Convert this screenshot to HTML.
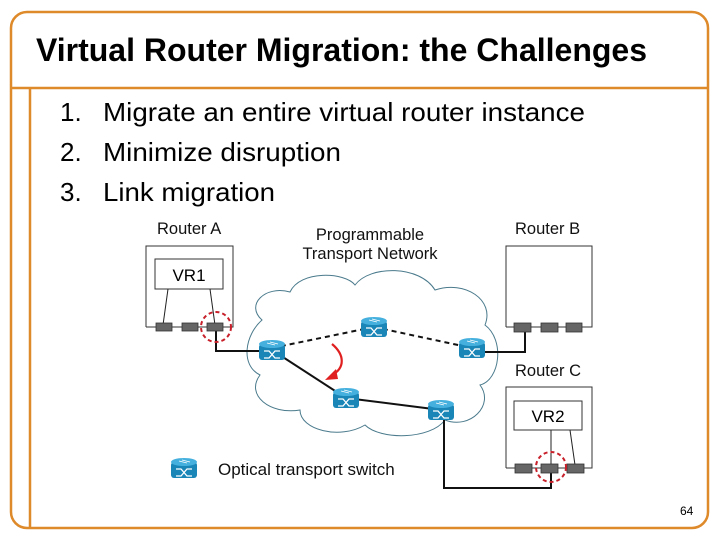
<!DOCTYPE html>
<html><head><meta charset="utf-8"><style>
html,body{margin:0;padding:0;background:#fff;}
svg{display:block;font-family:"Liberation Sans",Arial,sans-serif;}
</style></head><body>
<svg width="720" height="540" viewBox="0 0 720 540">
<defs>
<g id="sw">
<rect x="-13" y="-8" width="26" height="16" rx="3" fill="#1a86b8"/>
<ellipse cx="0" cy="-8" rx="13" ry="4" fill="#45b0de"/>
<path d="M-8 -1 L-3 -1 L3 6 L8 6 M-8 6 L-3 6 L3 -1 L8 -1" stroke="#fff" stroke-width="1.3" fill="none"/>
<path d="M-5 -9 L3 -7 M-2 -10 L6 -8" stroke="#fff" stroke-width="0.8"/>
</g>
</defs>
<!-- frame -->
<rect x="11" y="12" width="697" height="516" rx="16" fill="none" stroke="#de8a2a" stroke-width="2.5"/>
<line x1="11" y1="88" x2="708" y2="88" stroke="#de8a2a" stroke-width="2.5"/>
<line x1="30" y1="88" x2="30" y2="528" stroke="#de8a2a" stroke-width="2.5"/>
<text x="36" y="61" font-size="32" font-weight="bold" textLength="611" lengthAdjust="spacingAndGlyphs">Virtual Router Migration: the Challenges</text>
<g font-size="26">
<text x="60" y="121">1.</text><text x="103" y="121" textLength="482" lengthAdjust="spacingAndGlyphs">Migrate an entire virtual router instance</text>
<text x="60" y="161">2.</text><text x="103" y="161" textLength="238" lengthAdjust="spacingAndGlyphs">Minimize disruption</text>
<text x="60" y="201">3.</text><text x="103" y="201" textLength="172" lengthAdjust="spacingAndGlyphs">Link migration</text>
</g>
<!-- cloud -->
<path d="M262 320 C245 305 265 285 290 292 C300 270 345 272 355 285 C370 265 420 265 435 290 C465 280 495 300 485 325 C505 340 500 380 480 385 C495 405 470 430 445 420 C430 440 380 440 365 425 C340 440 300 430 300 410 C270 415 245 395 260 375 C240 365 245 335 262 320 Z" fill="#fff" stroke="#4a7a8c" stroke-width="1"/>
<g font-size="16.5" text-anchor="middle" fill="#111">
<text x="370" y="240">Programmable</text>
<text x="370" y="259">Transport Network</text>
</g>
<g font-size="16.5" fill="#111">
<text x="157" y="234">Router A</text>
<text x="515" y="234">Router B</text>
<text x="515" y="376">Router C</text>
<text x="218" y="475" font-size="17">Optical transport switch</text>
</g>
<!-- Router A -->
<path d="M146 327 V246 H233 V327 H146" fill="none" stroke="#333" stroke-width="1"/>
<rect x="155" y="259" width="68" height="30" fill="#fff" stroke="#333"/>
<text x="189" y="281" font-size="17" text-anchor="middle">VR1</text>
<line x1="168" y1="289" x2="163" y2="325" stroke="#222"/>
<line x1="210" y1="289" x2="215" y2="325" stroke="#222"/>
<!-- Router B -->
<path d="M506 327 V246 H592 V327 H506" fill="none" stroke="#333"/>
<!-- Router C -->
<path d="M506 468 V387 H592 V468 H506" fill="none" stroke="#333"/>
<rect x="514" y="401" width="68" height="29" fill="#fff" stroke="#333"/>
<text x="548" y="422" font-size="17" text-anchor="middle">VR2</text>
<line x1="551" y1="430" x2="551" y2="465" stroke="#222"/>
<line x1="570" y1="430" x2="575" y2="465" stroke="#222"/>
<!-- links -->
<g stroke="#111" stroke-width="2" fill="none">
<path d="M216 331 V351 H262"/>
<path d="M485 352 H525 V330"/>
<path d="M444 420 V488 H551 V473"/>
<line x1="272" y1="350" x2="346" y2="398"/>
<line x1="346" y1="398" x2="441" y2="410"/>
</g>
<g stroke="#111" stroke-width="2" stroke-dasharray="5,4">
<line x1="272" y1="348" x2="374" y2="327"/>
<line x1="374" y1="327" x2="472" y2="348"/>
</g>
<!-- ports -->
<g fill="#666" stroke="#333" stroke-width="0.8">
<rect x="156" y="323" width="16" height="8"/><rect x="182" y="323" width="16" height="8"/><rect x="207" y="323" width="16" height="8"/>
<rect x="514" y="323" width="17" height="9"/><rect x="541" y="323" width="17" height="9"/><rect x="566" y="323" width="16" height="9"/>
<rect x="515" y="464" width="17" height="9"/><rect x="541" y="464" width="17" height="9"/><rect x="567" y="464" width="17" height="9"/>
</g>
<circle cx="216" cy="327" r="15" fill="none" stroke="#c8202a" stroke-width="2" stroke-dasharray="4,3"/>
<circle cx="551" cy="467" r="15" fill="none" stroke="#c8202a" stroke-width="2" stroke-dasharray="4,3"/>
<!-- switches -->
<use href="#sw" x="272" y="352"/>
<use href="#sw" x="374" y="329"/>
<use href="#sw" x="472" y="350"/>
<use href="#sw" x="346" y="400"/>
<use href="#sw" x="441" y="412"/>
<use href="#sw" x="184" y="470"/>
<!-- red arrow -->
<path d="M332 344 C345 355 345 368 332 375" stroke="#e02020" stroke-width="2.2" fill="none"/>
<polygon points="325,380 336,369 338,379" fill="#e02020"/>
<text x="680" y="515" font-size="12">64</text>
</svg>
</body></html>
